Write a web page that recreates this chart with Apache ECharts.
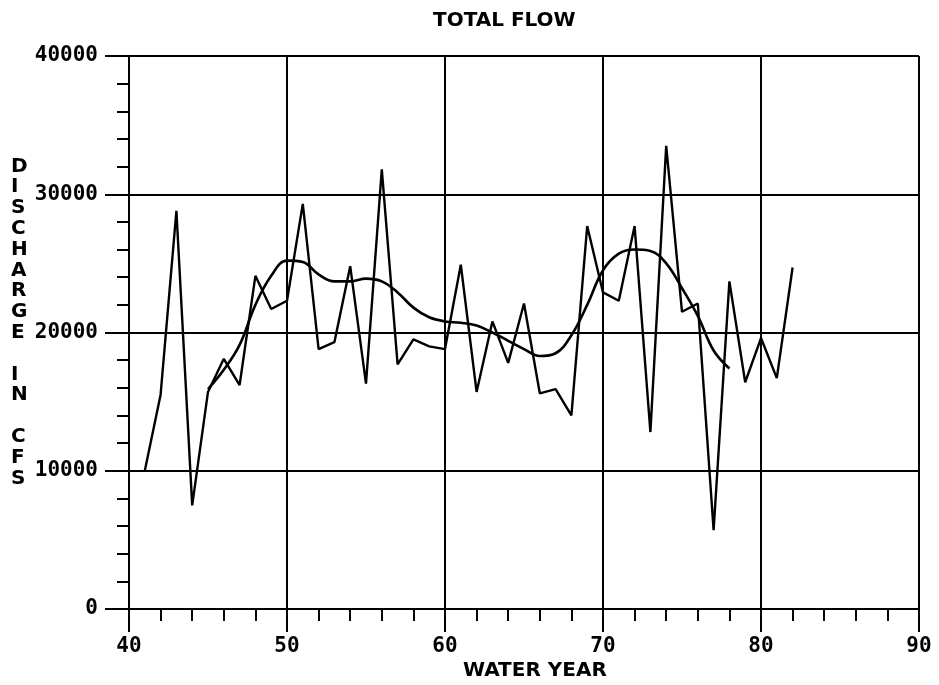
<!DOCTYPE html>
<html>
<head>
<meta charset="utf-8">
<script src="https://cdn.jsdelivr.net/npm/echarts@6/dist/echarts.min.js"></script>
<style>
html,body{margin:0;padding:0;background:#fff;}
#c{width:939px;height:685px;}
</style>
</head>
<body>
<div id="c"></div>
<script>
var years = [41,42,43,44,45,46,47,48,49,50,51,52,53,54,55,56,57,58,59,60,61,62,63,64,65,66,67,68,69,70,71,72,73,74,75,76,77,78,79,80,81,82];
var totalFlow = [10000,15500,28800,7500,15700,18100,16200,24100,21700,22300,29300,18800,19300,24800,16300,31800,17700,19500,19000,18800,24900,15700,20800,17800,22100,15600,15900,14000,27700,22900,22300,27700,12800,33500,21500,22100,5700,23700,16400,19600,16700,24700];
var smoothYears = [45,46,47,48,49,50,51,52,53,54,55,56,57,58,59,60,61,62,63,64,65,66,67,68,69,70,71,72,73,74,75,76,77,78];
var smoothFlow = [15900,17300,19100,22000,24100,25200,25100,24200,23700,23700,23900,23700,22900,21800,21100,20800,20700,20500,20000,19400,18800,18300,18500,19800,22000,24500,25700,26000,25900,25000,23200,21200,18700,17400];
var titleText = 'TOTAL FLOW';
var xTitle = 'WATER YEAR';
var yTitle = ['D','I','S','C','H','A','R','G','E','','I','N','','C','F','S'];

var chart = echarts.init(document.getElementById('c'), null, {renderer:'canvas'});
var monoFont = '"DejaVu Sans Mono", monospace';
var sansFont = '"DejaVu Sans", sans-serif';
var lineCol = '#000';
function plain(v){ return String(v); }
chart.setOption({
  backgroundColor: '#fff',
  animation: false,
  grid: {left: 129, right: 20, top: 56, bottom: 76, containLabel: false},
  xAxis: {
    type: 'value', min: 40, max: 90, interval: 10,
    axisLine: {show: true, onZero: false, lineStyle: {color: lineCol, width: 2}},
    axisTick: {show: true, length: 23, lineStyle: {color: lineCol, width: 2}},
    minorTick: {show: true, splitNumber: 5, length: 12, lineStyle: {color: lineCol, width: 2}},
    splitLine: {show: true, lineStyle: {color: lineCol, width: 2}},
    axisLabel: {margin: 27, color: '#000', fontFamily: monoFont, fontWeight: 'bold', fontSize: 21, formatter: plain}
  },
  yAxis: {
    type: 'value', min: 0, max: 40000, interval: 10000,
    axisLine: {show: true, lineStyle: {color: lineCol, width: 2}},
    axisTick: {show: true, length: 24, lineStyle: {color: lineCol, width: 2}},
    minorTick: {show: true, splitNumber: 5, length: 12, lineStyle: {color: lineCol, width: 2}},
    splitLine: {show: true, lineStyle: {color: lineCol, width: 2}},
    axisLabel: {margin: 31, color: '#000', fontFamily: monoFont, fontWeight: 'bold', fontSize: 21, formatter: plain}
  },
  graphic: [
    {type: 'text', left: 505 - 72, top: 11, style: {text: titleText, font: 'bold 20px ' + sansFont, fill: '#000'}},
    {type: 'text', left: 535 - 72, top: 661, style: {text: xTitle, font: 'bold 20px ' + sansFont, fill: '#000'}},
    {type: 'text', left: 11, top: 156, style: {text: yTitle.join('\n'), font: 'bold 20px ' + sansFont, fill: '#000', lineHeight: 20.8, align: 'center'}}
  ],
  series: [
    {type: 'line', data: years.map(function(y, i){return [y, totalFlow[i]];}), showSymbol: false, symbol: 'none',
     lineStyle: {color: '#000', width: 2.4}},
    {type: 'line', data: smoothYears.map(function(y, i){return [y, smoothFlow[i]];}), showSymbol: false, symbol: 'none', smooth: 0.4,
     lineStyle: {color: '#000', width: 2.6}}
  ]
});
</script>
</body>
</html>
